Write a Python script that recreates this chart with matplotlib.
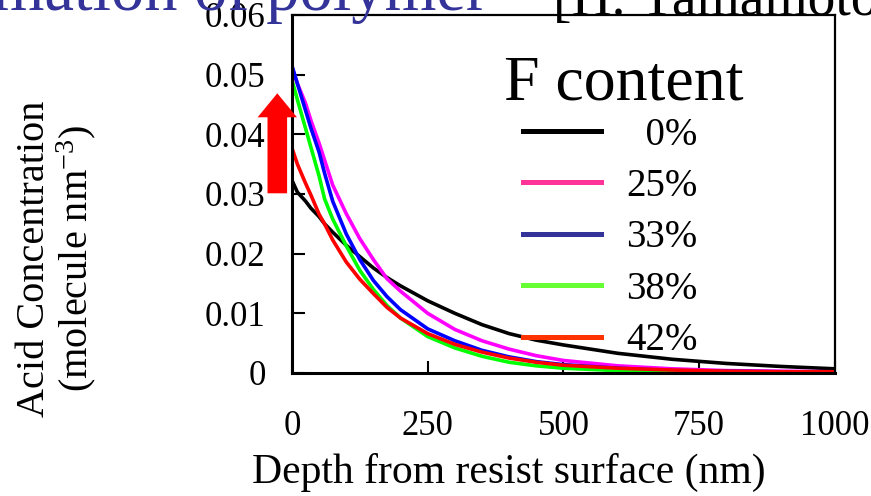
import numpy as np
import matplotlib
matplotlib.use("Agg")
import matplotlib.pyplot as plt
from matplotlib.lines import Line2D
from matplotlib.patches import FancyArrow

plt.rcParams['font.family'] = 'Liberation Serif'
plt.rcParams['mathtext.fontset'] = 'custom'
plt.rcParams['mathtext.rm'] = 'Liberation Serif'
plt.rcParams['mathtext.default'] = 'regular'

# ---- data ----
depth = [0, 10, 25, 35, 50, 60, 75, 100, 125, 150, 175, 200, 250, 300, 350, 400, 450,
         500, 600, 700, 800, 900, 1000]
acid_0 = [0.0323, 0.0303, 0.0288, 0.0276, 0.0262, 0.0250, 0.0236, 0.0214, 0.0195, 0.0176,
          0.0160, 0.0146, 0.0121, 0.0100, 0.0081, 0.0066, 0.0055, 0.0047, 0.0033, 0.0023,
          0.0016, 0.0011, 0.0007]
acid_25 = [0.0512, 0.0485, 0.0452, 0.0423, 0.0385, 0.0357, 0.0315, 0.0267, 0.0225, 0.0190,
           0.0158, 0.0137, 0.0100, 0.0073, 0.0054, 0.0040, 0.0029, 0.0021, 0.0012, 0.0007,
           0.0004, 0.0003, 0.0002]
acid_33 = [0.0515, 0.0485, 0.0440, 0.0410, 0.0370, 0.0335, 0.0288, 0.0233, 0.0190, 0.0155,
           0.0128, 0.0106, 0.0074, 0.0054, 0.0038, 0.0027, 0.0019, 0.0014, 0.0008, 0.0004,
           0.0003, 0.0002, 0.0001]
acid_38 = [0.0491, 0.0458, 0.0410, 0.0378, 0.0330, 0.0292, 0.0258, 0.0213, 0.0172, 0.0140,
           0.0113, 0.0092, 0.0061, 0.0042, 0.0028, 0.0018, 0.0012, 0.0008, 0.0004, 0.0002,
           0.0001, 0.0001, 0.0001]
acid_42 = [0.0377, 0.0350, 0.0318, 0.0298, 0.0266, 0.0250, 0.0223, 0.0186, 0.0157, 0.0133,
           0.0110, 0.0092, 0.0066, 0.0048, 0.0035, 0.0025, 0.0018, 0.0013, 0.0008, 0.0005,
           0.0003, 0.0002, 0.0002]

series = [acid_0, acid_25, acid_33, acid_38, acid_42]
labels = ['  0%', '25%', '33%', '38%', '42%']
line_colors = ['black', '#FF00FF', '#0000FF', '#00FF00', '#FF0000']
legend_colors = ['black', '#FF3399', '#333399', '#66FF33', '#FF3300']

xticks = [0, 250, 500, 750, 1000]
yticks = [0, 0.01, 0.02, 0.03, 0.04, 0.05, 0.06]

# ---- figure ----
fig = plt.figure(figsize=(8.71, 4.96), dpi=100)
ax = fig.add_axes([0.3352, 0.248, 0.6234, 0.7218])

for vals, c in zip(series, line_colors):
    ax.plot(depth, vals, color=c, linewidth=2.6, solid_joinstyle='round')

ax.set_xlim(0, 1000)
ax.set_ylim(0, 0.06)
ax.set_xticks(xticks)
ax.set_xticklabels([str(v) for v in xticks])
ax.set_yticks(yticks)
ax.set_yticklabels(['0' if v == 0 else f'{v:.2f}' for v in yticks])
ax.tick_params(axis='both', direction='in', length=9, width=1.5, labelsize=25)
ax.tick_params(axis='x', pad=27)
ax.tick_params(axis='y', pad=19)

for side in ['left', 'bottom']:
    ax.spines[side].set_linewidth(2.2)
for side in ['top', 'right']:
    ax.spines[side].set_linewidth(1.6)

ax.set_xlabel('Depth from resist surface (nm)', fontsize=30, va='center')
ax.xaxis.set_label_coords(0.40, -0.277)
ax.set_ylabel('Acid Concentration\n(molecule nm$^{-3}$)', fontsize=29,
              va='center', linespacing=1.05)
ax.yaxis.set_label_coords(-0.433, 0.32)

# legend (title drawn separately so it can sit closer to the entries)
ax.text(0.390, 0.7626, 'F content', transform=ax.transAxes, fontsize=46,
        ha='left', va='baseline')
handles = [Line2D([], [], color=c, linewidth=3.6) for c in legend_colors]
leg = ax.legend(handles, labels, loc='upper left',
                bbox_to_anchor=(0.4254, 0.716), frameon=False, fontsize=28,
                handlelength=2.0, handletextpad=0.65,
                labelspacing=0.37, borderpad=0, borderaxespad=0)

# red arrow left of the axis
arrow = FancyArrow(2.773, 4.96 - 1.933, 0, 1.0, width=0.196, head_width=0.394,
                   head_length=0.24, length_includes_head=True,
                   transform=fig.dpi_scale_trans, color='#FF0000', lw=0,
                   clip_on=False)
fig.patches.append(arrow)

# slide text cut off at the top
fig.text(488 / 871, 1 - 10 / 496, 'formation of polymer', ha='right', va='baseline',
         fontsize=48, color='#333399')
fig.text(553 / 871, 1 - 15 / 496, '[H. Yamamoto', ha='left', va='baseline',
         fontsize=40, color='black')

fig.savefig('out.png', dpi=100)
